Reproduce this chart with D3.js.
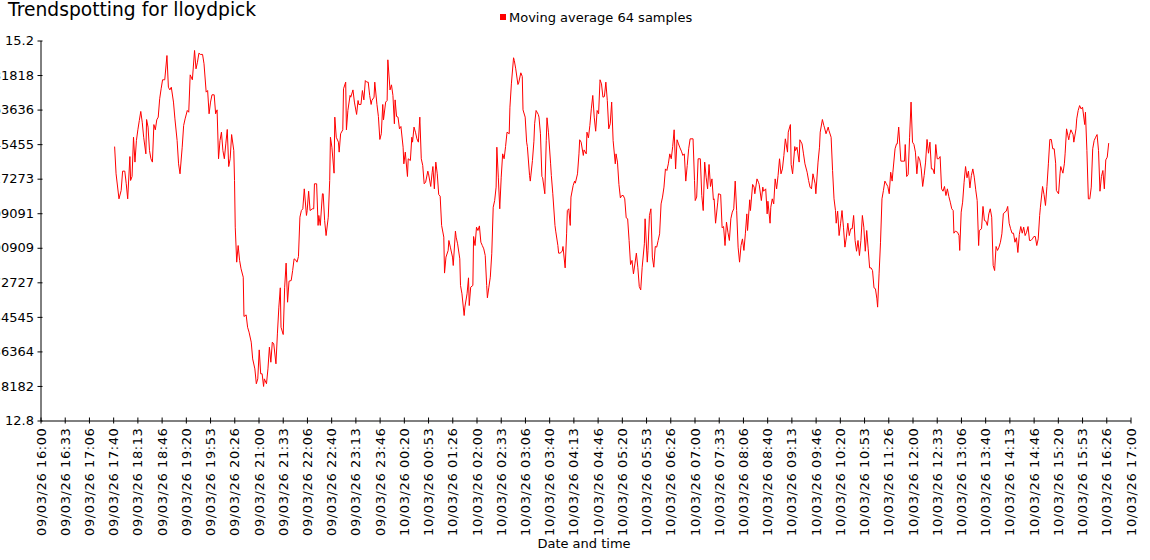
<!DOCTYPE html>
<html><head><meta charset="utf-8">
<script src="https://cdn.jsdelivr.net/npm/d3@7"></script>
<style>
body{margin:0;background:#fff;}
svg{display:block;font-family:"DejaVu Sans",Verdana,sans-serif;}
</style>
</head><body>
<svg id="chart" width="1150" height="560"></svg>
<script>
const chartTitle = "Trendspotting for lloydpick";
const seriesName = "Moving average 64 samples";
const xAxisTitle = "Date and time";
const startTime = "2026-03-09T16:00:00";
const endTime = "2026-03-10T17:00:00";

const xTickLabels = ["09/03/26 16:00","09/03/26 16:33","09/03/26 17:06","09/03/26 17:40","09/03/26 18:13","09/03/26 18:46","09/03/26 19:20","09/03/26 19:53","09/03/26 20:26","09/03/26 21:00","09/03/26 21:33","09/03/26 22:06","09/03/26 22:40","09/03/26 23:13","09/03/26 23:46","10/03/26 00:20","10/03/26 00:53","10/03/26 01:26","10/03/26 02:00","10/03/26 02:33","10/03/26 03:06","10/03/26 03:40","10/03/26 04:13","10/03/26 04:46","10/03/26 05:20","10/03/26 05:53","10/03/26 06:26","10/03/26 07:00","10/03/26 07:33","10/03/26 08:06","10/03/26 08:40","10/03/26 09:13","10/03/26 09:46","10/03/26 10:20","10/03/26 10:53","10/03/26 11:26","10/03/26 12:00","10/03/26 12:33","10/03/26 13:06","10/03/26 13:40","10/03/26 14:13","10/03/26 14:46","10/03/26 15:20","10/03/26 15:53","10/03/26 16:26","10/03/26 17:00"];

const yTickLabels = ["12.8","13.0181818182","13.2363636364","13.4545454545","13.6727272727","13.8909090909","14.1090909091","14.3272727273","14.5454545455","14.7636363636","14.9818181818","15.2"];

// [minutes after 09/03/26 16:00, moving average value]
const movingAverage = [
[102,14.530],[104,14.358],[108,14.200],[111,14.253],[113,14.375],[116,14.375],[118,14.295],[120,14.200],[123,14.467],[124,14.316],[126,14.341],[128,14.589],[130,14.432],[132,14.568],[134,14.636],[136,14.695],[138,14.752],[140,14.684],[142,14.589],[145,14.484],[146,14.701],[148,14.653],[150,14.505],[152,14.453],[154,14.432],[156,14.669],[158,14.636],[160,14.699],[162,14.716],[164,14.832],[166,14.895],[168,14.952],[171,14.952],[174,15.105],[176,14.905],[178,14.888],[180,14.905],[183,14.811],[185,14.705],[188,14.568],[190,14.421],[192,14.358],[195,14.526],[197,14.663],[199,14.705],[202,14.758],[204,14.747],[206,14.983],[209,14.952],[212,15.137],[214,15.021],[216,15.063],[218,15.120],[220,15.112],[223,15.112],[225,15.053],[228,14.874],[230,14.884],[232,14.737],[234,14.811],[236,14.857],[239,14.857],[241,14.737],[243,14.762],[245,14.453],[247,14.568],[249,14.621],[251,14.505],[253,14.453],[255,14.547],[257,14.638],[259,14.404],[261,14.453],[263,14.606],[266,14.505],[267,14.316],[268,14.021],[270,13.800],[272,13.905],[274,13.811],[276,13.758],[279,13.705],[280,13.457],[283,13.467],[285,13.389],[287,13.358],[290,13.295],[292,13.189],[295,13.126],[297,13.032],[299,13.063],[301,13.246],[303,13.095],[305,13.095],[307,13.015],[308,13.063],[311,13.032],[313,13.126],[315,13.263],[317,13.168],[319,13.295],[321,13.284],[324,13.158],[326,13.347],[328,13.516],[330,13.638],[331,13.389],[334,13.343],[336,13.642],[338,13.794],[340,13.547],[342,13.680],[345,13.684],[347,13.747],[349,13.821],[351,13.815],[353,13.800],[355,13.836],[357,14.084],[359,14.126],[361,14.137],[363,14.263],
[366,14.095],[367,14.126],[369,14.248],[371,14.126],[374,14.137],[376,14.137],[377,14.295],[380,14.295],[382,14.032],[383,14.095],[385,14.032],[388,14.232],[389,14.232],[391,14.063],[393,13.968],[396,14.084],[398,14.316],[399,14.589],[401,14.526],[404,14.362],[405,14.716],[407,14.589],[410,14.558],[411,14.495],[413,14.611],[416,14.636],[417,14.895],[420,14.937],[421,14.636],[423,14.758],[426,14.853],[427,14.842],[430,14.888],[432,14.811],[435,14.733],[437,14.821],[438,14.796],[441,14.796],[443,14.884],[445,14.825],[447,14.947],[449,14.937],[451,14.937],[453,14.853],[455,14.796],[456,14.821],[459,14.842],[460,14.937],[463,14.796],[465,14.720],[467,14.575],[469,14.611],[471,14.796],[472,14.699],[475,14.811],[477,14.821],[478,15.078],[481,14.888],[483,14.920],[485,14.853],[487,14.674],[488,14.825],[490,14.720],[492,14.716],[494,14.642],[496,14.657],[499,14.526],[500,14.421],[502,14.495],[505,14.341],[506,14.453],[509,14.442],[511,14.589],[512,14.558],[514,14.653],[516,14.621],[518,14.579],[520,14.558],[522,14.716],[524,14.453],[526,14.411],[528,14.295],[530,14.305],[533,14.375],[534,14.358],[537,14.278],[539,14.368],[540,14.404],[542,14.263],[544,14.432],[546,14.358],[548,14.227],[550,14.217],[552,14.032],[555,13.958],[556,13.731],[558,13.832],[561,13.874],[562,13.937],[564,13.895],[567,13.832],[568,13.779],[571,13.996],[572,13.958],[574,13.916],[577,13.821],[578,13.653],[580,13.600],[583,13.463],[584,13.516],[587,13.600],[589,13.701],[590,13.526],[592,13.642],[595,13.653],[596,13.962],[598,13.905],[600,14.021],[602,14.000],[604,14.029],[606,13.926],[608,13.905],[610,13.884],[612,13.842],[614,13.653],[615,13.575],[617,13.642],[619,13.705],[621,13.853],[623,14.147],[625,14.189],[627,14.274],[628,14.526],[630,14.337],
[632,14.137],[634,14.337],[636,14.484],[638,14.453],[640,14.530],[642,14.621],[645,14.611],[646,14.779],[648,14.926],[651,15.091],[652,15.074],[654,15.021],[657,14.922],[658,14.931],[661,14.996],[663,14.973],[664,14.762],[667,14.716],[669,14.558],[670,14.530],[673,14.347],[674,14.312],[677,14.442],[679,14.564],[680,14.674],[682,14.758],[685,14.733],[686,14.716],[688,14.611],[690,14.341],[691,14.333],[694,14.232],[696,14.568],[697,14.712],[699,14.621],[702,14.421],[703,14.347],[705,14.232],[708,14.032],[709,13.996],[712,13.905],[713,13.857],[715,13.857],[718,13.869],[719,13.899],[722,13.764],[724,13.979],[725,14.126],[727,14.137],[729,14.032],[730,14.211],[733,14.284],[735,14.312],[736,14.299],[739,14.358],[741,14.484],[742,14.573],[744,14.558],[747,14.474],[748,14.509],[751,14.484],[752,14.621],[754,14.585],[756,14.663],[758,14.768],[760,14.853],[762,14.716],[764,14.627],[766,14.758],[768,14.737],[770,14.952],[772,14.926],[774,14.842],[776,14.846],[778,14.937],[780,14.821],[782,14.642],[784,14.674],[786,14.811],[788,14.568],[791,14.421],[792,14.484],[794,14.432],[796,14.291],[798,14.206],[800,14.221],[802,14.221],[804,14.200],[806,14.080],[808,14.074],[810,13.937],[812,13.785],[814,13.811],[816,13.726],[818,13.789],[820,13.857],[822,13.768],[824,13.646],[826,13.625],[828,13.768],[831,13.916],[832,14.074],[835,13.800],[836,13.874],[838,14.095],[840,14.137],[842,13.832],[844,13.768],[846,13.899],[848,13.895],[850,13.937],[852,13.979],[854,14.168],[856,14.211],[858,14.274],[860,14.389],[862,14.379],[864,14.421],[866,14.484],[868,14.453],[870,14.530],[872,14.636],[874,14.389],[876,14.573],[878,14.547],[880,14.522],[882,14.501],[884,14.474],[886,14.484],[888,14.312],[890,14.411],[892,14.516],[894,14.579],[898,14.579],[900,14.316],
[901,14.189],[903,14.211],[905,14.453],[908,14.453],[910,14.221],[912,14.126],[914,14.432],[916,14.337],[918,14.263],[920,14.417],[922,14.278],[924,14.326],[926,14.194],[927,14.200],[929,14.046],[932,14.179],[933,14.232],[936,14.227],[938,14.017],[940,14.025],[942,13.905],[944,14.053],[946,13.989],[948,13.937],[950,14.074],[952,14.116],[954,14.137],[956,14.312],[958,14.126],[960,13.895],[962,13.800],[964,13.905],[966,13.947],[968,13.874],[970,13.979],[972,14.105],[973,14.000],[976,14.194],[977,14.126],[980,14.291],[982,14.274],[983,14.232],[986,14.326],[988,14.305],[989,14.291],[992,14.189],[994,14.274],[995,14.248],[998,14.263],[1000,14.105],[1001,14.185],[1004,14.046],[1005,14.147],[1007,14.200],[1009,14.168],[1011,14.326],[1013,14.263],[1015,14.347],[1017,14.453],[1019,14.358],[1021,14.389],[1023,14.474],[1025,14.579],[1028,14.495],[1029,14.621],[1032,14.669],[1033,14.417],[1035,14.358],[1038,14.530],[1039,14.505],[1041,14.526],[1044,14.432],[1045,14.573],[1048,14.547],[1050,14.484],[1052,14.421],[1055,14.368],[1057,14.316],[1059,14.274],[1061,14.263],[1063,14.358],[1066,14.295],[1067,14.232],[1070,14.432],[1072,14.526],[1073,14.621],[1076,14.701],[1078,14.663],[1079,14.648],[1081,14.611],[1084,14.653],[1085,14.632],[1088,14.589],[1090,14.379],[1092,14.200],[1094,14.126],[1095,14.046],[1097,14.122],[1099,13.968],[1101,14.042],[1103,14.126],[1105,14.021],[1107,13.895],[1109,13.958],[1111,14.046],[1113,13.968],[1115,14.011],[1117,14.011],[1119,14.095],[1121,13.937],[1123,13.869],[1125,13.937],[1127,13.842],[1129,13.937],[1131,14.095],[1133,14.021],[1135,13.869],[1137,14.000],[1139,13.884],[1141,13.764],[1143,13.764],[1145,13.747],[1147,13.638],[1149,13.632],[1151,13.568],[1152,13.516],[1154,13.726],[1156,13.926],[1158,14.200],[1160,14.253],[1162,14.312],[1164,14.295],[1166,14.278],[1168,14.232],[1170,14.368],[1172,14.312],[1173,14.368],[1176,14.516],[1178,14.547],[1179,14.547],[1181,14.653],
[1184,14.438],[1189,14.438],[1190,14.543],[1192,14.341],[1194,14.354],[1196,14.589],[1198,14.811],[1200,14.558],[1202,14.543],[1204,14.495],[1206,14.358],[1208,14.467],[1210,14.446],[1212,14.389],[1214,14.278],[1216,14.347],[1218,14.432],[1220,14.575],[1222,14.488],[1224,14.558],[1226,14.389],[1228,14.389],[1230,14.358],[1232,14.543],[1234,14.453],[1236,14.453],[1238,14.467],[1240,14.263],[1242,14.248],[1244,14.278],[1246,14.221],[1248,14.263],[1250,14.215],[1252,14.179],[1254,14.137],[1256,14.126],[1257,13.983],[1259,13.996],[1262,13.989],[1264,13.968],[1265,13.874],[1267,14.116],[1269,14.179],[1271,14.305],[1273,14.404],[1275,14.333],[1277,14.375],[1279,14.269],[1281,14.347],[1283,14.389],[1285,14.337],[1287,14.257],[1289,14.189],[1291,13.905],[1292,14.000],[1295,14.011],[1297,14.152],[1299,14.063],[1301,14.059],[1303,14.032],[1305,14.105],[1307,14.137],[1309,14.084],[1311,13.779],[1313,13.747],[1315,13.899],[1317,13.874],[1319,13.895],[1321,13.926],[1323,13.979],[1325,14.105],[1327,14.116],[1329,14.122],[1331,14.152],[1333,14.046],[1335,14.011],[1337,13.983],[1339,13.983],[1341,13.926],[1343,13.954],[1345,13.861],[1347,13.975],[1349,14.025],[1351,13.983],[1353,14.021],[1355,13.968],[1357,13.989],[1359,14.025],[1361,13.937],[1363,13.937],[1365,13.947],[1367,13.962],[1369,13.962],[1371,13.905],[1373,13.947],[1375,14.095],[1376,14.147],[1379,14.278],[1381,14.227],[1383,14.158],[1385,14.278],[1387,14.421],[1389,14.575],[1391,14.575],[1393,14.516],[1395,14.516],[1397,14.425],[1398,14.253],[1401,14.232],[1403,14.358],[1404,14.404],[1407,14.362],[1409,14.421],[1410,14.484],[1412,14.642],[1415,14.573],[1416,14.600],[1418,14.636],[1421,14.606],[1422,14.558],[1425,14.642],[1426,14.705],[1428,14.758],[1430,14.789],[1432,14.768],[1434,14.779],[1437,14.669],[1438,14.747],[1440,14.505],[1442,14.200],[1444,14.200],[1446,14.274],[1448,14.516],[1450,14.568],[1452,14.589],[1454,14.606],[1456,14.505],[1458,14.248],[1460,14.341],[1462,14.379],[1464,14.263],[1466,14.446],[1468,14.463],[1470,14.552]
];

const FONT = '"DejaVu Sans", Verdana, sans-serif';
const svg = d3.select("#chart");
const t0 = new Date(startTime).getTime();
const t1 = new Date(endTime).getTime();
const yTickValues = yTickLabels.map(Number);

const x = d3.scaleTime().domain([new Date(t0), new Date(t1)]).range([40.5, 1130.5]);
const y = d3.scaleLinear().domain([d3.min(yTickValues), d3.max(yTickValues)]).range([420.5, 40.5]);

const data = movingAverage.map(([m, v]) => ({ t: new Date(t0 + m * 60000), v }));

// X axis
const tickTimes = xTickLabels.map((_, i) => new Date(t0 + i * (t1 - t0) / (xTickLabels.length - 1)));
const gx = svg.append("g")
  .attr("transform", "translate(0,420.5)")
  .call(d3.axisBottom(x).tickValues(tickTimes).tickFormat((d, i) => xTickLabels[i]).tickSize(3).tickSizeOuter(0));
gx.attr("font-family", FONT).attr("font-size", 13);
gx.selectAll(".tick line").attr("y1", -3).attr("y2", 3);
gx.selectAll(".tick text")
  .attr("transform", "rotate(-90)")
  .attr("text-anchor", "end")
  .attr("letter-spacing", "0.6px")
  .attr("x", -7).attr("y", 0).attr("dy", "0.35em")
  .attr("fill", "#000");

// Y axis
const gy = svg.append("g")
  .attr("transform", "translate(40.5,0)")
  .call(d3.axisLeft(y).tickValues(yTickValues).tickFormat((d, i) => yTickLabels[i]).tickSize(3).tickSizeOuter(0));
gy.attr("font-family", FONT).attr("font-size", 13);
gy.selectAll(".tick line").attr("x1", -3).attr("x2", 2);
gy.selectAll(".tick text").attr("x", -6.5).attr("fill", "#000");

// Line
svg.append("path")
  .datum(data)
  .attr("fill", "none")
  .attr("stroke", "#ff0000")
  .attr("stroke-width", 1)
  .attr("d", d3.line().x(d => x(d.t)).y(d => y(d.v)));

// Title
svg.append("text").attr("x", 8).attr("y", 16)
  .attr("font-family", FONT).attr("font-size", 18.7).attr("fill", "#000")
  .text(chartTitle);

// Legend
svg.append("rect").attr("x", 500).attr("y", 14).attr("width", 6).attr("height", 6).attr("fill", "#ff0000");
svg.append("text").attr("x", 509).attr("y", 22)
  .attr("font-family", FONT).attr("font-size", 13).attr("fill", "#000")
  .text(seriesName);

// X axis title
svg.append("text").attr("x", 584).attr("y", 548).attr("text-anchor", "middle")
  .attr("font-family", FONT).attr("font-size", 13).attr("fill", "#000")
  .text(xAxisTitle);
</script>
</body></html>
